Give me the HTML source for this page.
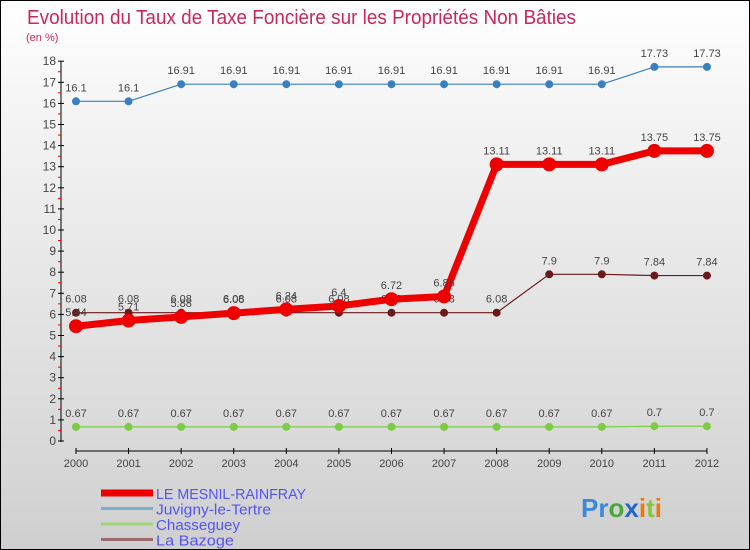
<!DOCTYPE html>
<html><head><meta charset="utf-8"><style>
body{margin:0}
#c{width:748px;height:548px;border:1px solid #000;background:linear-gradient(#fff,#f4f4f4 20%,#d9d9d9 80%,#cfcfcf);position:relative;font-family:"Liberation Sans",sans-serif}
</style></head><body>
<div id="c">
<svg id="s" width="748" height="548" xmlns="http://www.w3.org/2000/svg" style="position:absolute;left:0;top:0">
<text x="26" y="23" font-size="20" fill="#c8285a" textLength="549" lengthAdjust="spacingAndGlyphs">Evolution du Taux de Taxe Foncière sur les Propriétés Non Bâties</text>
<text x="25" y="40" font-size="11" fill="#c8285a">(en %)</text>
<text x="580" y="516" font-size="26" font-weight="bold"><tspan fill="#3a8ad8">Pr</tspan><tspan fill="#4aa83a">o</tspan><tspan fill="#2266cc">x</tspan><tspan fill="#e87a10">i</tspan><tspan fill="#8cc43a">t</tspan><tspan fill="#e87a10">i</tspan></text>
</svg>
</div>
<script>
const years=["2000","2001","2002","2003","2004","2005","2006","2007","2008","2009","2010","2011","2012"];
const mesnil=[5.44,5.71,5.88,6.06,6.24,6.4,6.72,6.85,13.11,13.11,13.11,13.75,13.75];
const juvigny=[16.1,16.1,16.91,16.91,16.91,16.91,16.91,16.91,16.91,16.91,16.91,17.73,17.73];
const chasseguey=[0.67,0.67,0.67,0.67,0.67,0.67,0.67,0.67,0.67,0.67,0.67,0.7,0.7];
const bazoge=[6.08,6.08,6.08,6.08,6.08,6.08,6.08,6.08,6.08,7.9,7.9,7.84,7.84];
const yTicks=[0,1,2,3,4,5,6,7,8,9,10,11,12,13,14,15,16,17,18];
const names=["LE MESNIL-RAINFRAY","Juvigny-le-Tertre","Chasseguey","La Bazoge"];
const NS="http://www.w3.org/2000/svg",s=document.getElementById('s');
const X=i=>75+i*52.58, Y=v=>440-v*21.1;
function mk(t,a,p){const e=document.createElementNS(NS,t);for(const k in a)e.setAttribute(k,a[k]);(p||s).appendChild(e);return e;}
const ax=mk('g',{});


mk('line',{x1:60,y1:Y(18),x2:60,y2:Y(0)+1,stroke:'#000'},ax);
mk('line',{x1:X(0),y1:450,x2:X(12),y2:450,stroke:'#000'},ax);
yTicks.forEach(v=>{mk('line',{x1:57,x2:63,y1:Y(v),y2:Y(v),stroke:'#000'},ax);
 if(v<18)mk('line',{x1:57,x2:60,y1:Y(v+0.5),y2:Y(v+0.5),stroke:'#e00'},ax);
 const t=mk('text',{x:55,y:Y(v)+4,'text-anchor':'end','font-size':12,fill:'#444'},ax);t.textContent=v;
 
 });
years.forEach((y,i)=>{mk('line',{x1:X(i),x2:X(i),y1:447,y2:453,stroke:'#000'},ax);
 const t=mk('text',{x:X(i),y:466,'text-anchor':'middle','font-size':11,fill:'#444'},ax);t.textContent=y;
 
 });
function series(d,col,w,r,nm){const g=mk('g',{});
 
 
 mk('polyline',{points:d.map((v,i)=>X(i)+','+Y(v)).join(' '),fill:'none',stroke:col,'stroke-width':w,'stroke-linejoin':'round'},g);
 d.forEach((v,i)=>{const c=mk('circle',{cx:X(i),cy:Y(v),r:r,fill:col},g);
  
  
  const t=mk('text',{x:X(i),y:Y(v)-10,'text-anchor':'middle','font-size':11,fill:'#444'},g);t.textContent=v;
  
  });}
series(juvigny,'#3a80c0',1.2,4,'series-juvigny');
series(chasseguey,'#7ccc44',1.2,4,'series-chasseguey');
series(bazoge,'#6a1a1a',1.2,4,'series-bazoge');
series(mesnil,'#ee0000',7,7,'series-mesnil');
const lc=['#ee0000','#7aaed0','#9ed47a','#9a6a6a'],lw=[7,3,3,3],tl=[150,115,84,78];
names.forEach((n,i)=>{const g=mk('g',{});
 
 
 const y=492+i*15.5;
 mk('line',{x1:100,x2:152,y1:y,y2:y,stroke:lc[i],'stroke-width':lw[i]},g);
 const t=mk('text',{x:155,y:y+6,'font-size':15,fill:'#5555ee',textLength:tl[i],lengthAdjust:'spacingAndGlyphs'},g);t.textContent=n;});
</script>
</body></html>
